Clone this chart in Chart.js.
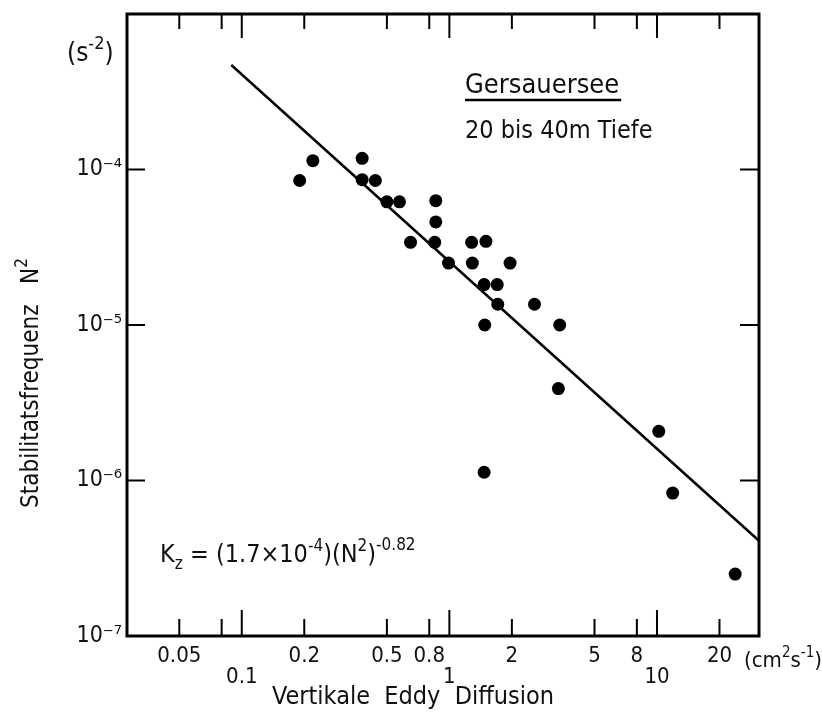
<!DOCTYPE html>
<html lang="de">
<head>
<meta charset="UTF-8">
<title>Gersauersee - Kz gegen N2</title>
<script src="https://cdn.jsdelivr.net/npm/chart.js"></script>
<style>
  html, body { margin: 0; padding: 0; background: #fff; }
  #wrap { width: 822px; height: 718px; }
</style>
</head>
<body>
<div id="wrap"><canvas id="chart" width="822" height="718"></canvas></div>
<script>
// Vertikale Eddy Diffusion Kz (cm2 s-1) and Stabilitaetsfrequenz N2 (s-2)
const kz = [0.19, 0.22, 0.38, 0.38, 0.44, 0.50, 0.575, 0.86, 0.86, 0.65, 0.85, 0.99, 1.28, 1.50,
            1.29, 1.96, 1.47, 1.70, 1.71, 2.57, 1.48, 3.40, 3.35, 10.2, 1.47, 11.9, 23.8];
const n2 = [8.5e-5, 1.14e-4, 1.18e-4, 8.6e-5, 8.5e-5, 6.2e-5, 6.2e-5, 6.3e-5, 4.6e-5, 3.4e-5, 3.4e-5,
            2.5e-5, 3.4e-5, 3.45e-5, 2.5e-5, 2.5e-5, 1.82e-5, 1.82e-5, 1.36e-5, 1.36e-5, 1.0e-5,
            1.0e-5, 3.9e-6, 2.07e-6, 1.13e-6, 8.3e-7, 2.5e-7];

// end points of the fitted line
const fitKz = [0.089, 31];
const fitN2 = [4.7e-4, 4.1e-7];

const xTicks = [0.05, 0.08, 0.1, 0.2, 0.5, 0.8, 1, 2, 5, 8, 10, 20];
const xLabels = ['0.05', '', '0.1', '0.2', '0.5', '0.8', '1', '2', '5', '8', '10', '20'];
const xMajor = [0.1, 1, 10];
const yTicks = [1e-7, 1e-6, 1e-5, 1e-4];
const yLabels = ['10⁻⁷', '10⁻⁶', '10⁻⁵', '10⁻⁴'];

const FONT = "'DejaVu Sans Condensed', 'DejaVu Sans', sans-serif";
Chart.defaults.font.family = FONT;
Chart.defaults.color = '#111';

// text pieces with super/subscripts: [text, size, dy]
function drawRuns(ctx, x, y, parts) {
    ctx.textAlign = 'left';
    ctx.textBaseline = 'alphabetic';
    parts.forEach(p => {
        ctx.font = p[1] + 'px ' + FONT;
        ctx.fillText(p[0], x, y + (p[2] || 0));
        x += ctx.measureText(p[0]).width;
    });
    return x;
}

const framePlugin = {
    id: 'frame',
    afterDatasetsDraw(chart) {
        const ctx = chart.ctx;
        const a = chart.chartArea;
        const xs = chart.scales.x, ys = chart.scales.y;
        ctx.save();
        ctx.strokeStyle = '#000';
        ctx.fillStyle = '#111';
        ctx.lineWidth = 3;
        ctx.strokeRect(a.left, a.top, a.right - a.left, a.bottom - a.top);

        // inward tick marks
        ctx.lineWidth = 2;
        ctx.beginPath();
        xTicks.forEach(v => {
            const px = xs.getPixelForValue(v);
            const len = xMajor.includes(v) ? 26 : 17;
            ctx.moveTo(px, a.bottom); ctx.lineTo(px, a.bottom - len);
            ctx.moveTo(px, a.top); ctx.lineTo(px, a.top + len - 2);
        });
        yTicks.slice(1).forEach(v => {
            const py = ys.getPixelForValue(v);
            ctx.moveTo(a.left, py); ctx.lineTo(a.left + 18, py);
            ctx.moveTo(a.right, py); ctx.lineTo(a.right - 19, py);
        });
        ctx.stroke();

        // units
        drawRuns(ctx, 67, 61, [['(s', 26], ['-2', 18, -12], [')', 26]]);
        drawRuns(ctx, 744, 667, [['(cm', 22], ['2', 15, -10], ['s', 22], ['-1', 15, -10], [')', 22]]);

        // legend text
        ctx.font = '27px ' + FONT;
        const gx = 465;
        ctx.fillText('Gersauersee', gx, 93);
        const gw = ctx.measureText('Gersauersee').width;
        ctx.lineWidth = 2.5;
        ctx.beginPath();
        ctx.moveTo(gx, 100); ctx.lineTo(gx + gw + 2, 100);
        ctx.stroke();
        drawRuns(ctx, 465, 138, [['20 bis 40m Tiefe', 25]]);

        // fit formula
        drawRuns(ctx, 160, 562, [
            ['K', 25], ['z', 17, 7], [' = (1.7×10', 25], ['-4', 17, -11],
            [')(N', 25], ['2', 17, -11], [')', 25], ['-0.82', 17, -12]
        ]);

        // axis titles
        ctx.font = '25px ' + FONT;
        ctx.textAlign = 'center';
        ctx.fillText('Vertikale  Eddy  Diffusion', 413, 704);

        ctx.save();
        ctx.translate(38, 383);
        ctx.rotate(-Math.PI / 2);
        ctx.font = '24px ' + FONT;
        const t1 = 'Stabilitatsfrequenz   N';
        const w1 = ctx.measureText(t1).width;
        ctx.font = '17px ' + FONT;
        const w2 = ctx.measureText('2').width;
        drawRuns(ctx, -(w1 + w2) / 2, 0, [[t1, 24], ['2', 17, -11]]);
        ctx.restore();

        ctx.restore();
    }
};

const ctx = document.getElementById('chart').getContext('2d');
new Chart(ctx, {
    type: 'scatter',
    data: {
        datasets: [
            {
                data: kz.map((x, i) => ({ x: x, y: n2[i] })),
                pointRadius: 6.5,
                pointBackgroundColor: '#000',
                pointBorderWidth: 0
            },
            {
                type: 'line',
                data: fitKz.map((x, i) => ({ x: x, y: fitN2[i] })),
                borderColor: '#000',
                borderWidth: 2.5,
                pointRadius: 0,
                fill: false
            }
        ]
    },
    options: {
        responsive: false,
        animation: false,
        layout: { padding: { top: 14, right: 63, left: 0, bottom: 0 } },
        plugins: { legend: { display: false }, tooltip: { enabled: false } },
        scales: {
            x: {
                type: 'logarithmic',
                min: 0.028,
                max: 31,
                afterBuildTicks: s => { s.ticks = xTicks.map(v => ({ value: v })); },
                afterFit: s => { s.height = 82; s.paddingLeft = 0; s.paddingRight = 0; },
                grid: { display: false, drawTicks: false },
                border: { display: false },
                ticks: {
                    autoSkip: false,
                    maxRotation: 0,
                    padding: 10,
                    color: '#111',
                    font: { size: 22, lineHeight: 0.95 },
                    callback: (v, i) => {
                        const lab = xLabels[i];
                        return xMajor.includes(xTicks[i]) ? ['', lab] : lab;
                    }
                }
            },
            y: {
                type: 'logarithmic',
                min: 1e-7,
                max: 1e-3,
                afterBuildTicks: s => { s.ticks = yTicks.map(v => ({ value: v })); },
                afterFit: s => { s.width = 127; s.paddingTop = 0; s.paddingBottom = 0; },
                grid: { display: false, drawTicks: false },
                border: { display: false },
                ticks: {
                    autoSkip: false,
                    padding: 5,
                    color: '#111',
                    font: { size: 23 },
                    callback: (v, i) => yLabels[i]
                }
            }
        }
    },
    plugins: [framePlugin]
});
</script>
</body>
</html>
